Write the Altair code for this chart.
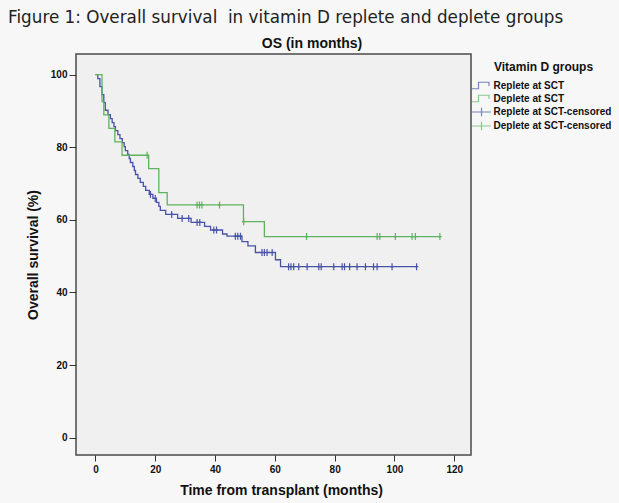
import altair as alt
import pandas as pd

# ---------------- data ----------------
REP = "Replete at SCT"
DEP = "Deplete at SCT"
REP_C = "Replete at SCT-censored"
DEP_C = "Deplete at SCT-censored"

# Kaplan-Meier steps: time (months) and survival (%) after each step
blue_t = [0, 0.8, 1.5, 2.2, 2.8, 3.3, 4.2, 5.0, 5.6, 6.2, 6.7, 7.5, 8.2, 9.0, 9.6,
          10.0, 10.8, 11.3, 11.7, 12.5, 13.0, 13.4, 14.2, 15.0, 16.0, 16.8, 18.0,
          19.2, 20.4, 21.2, 21.7, 23.5, 27.5, 32.0, 36.5, 38.5, 42.5, 44.0, 49.0,
          51.0, 53.5, 60.2, 61.9]
blue_s = [100, 98.9, 96.7, 94.5, 92.3, 90.2, 89.0, 87.9, 86.8, 85.7, 84.6, 83.5,
          82.4, 81.3, 80.2, 79.1, 78.0, 76.9, 75.8, 74.7, 73.6, 72.5, 71.4, 70.3,
          69.2, 68.1, 67.0, 65.9, 64.8, 63.7, 62.6, 61.5, 60.4, 59.3, 58.2, 57.2,
          56.1, 55.5, 54.0, 52.8, 51.0, 49.0, 47.1]
blue_cens = [18.4, 20.0, 25.5, 29.0, 31.2, 34.0, 34.9, 39.6, 40.5, 46.8, 47.6, 48.5,
             55.7, 56.5, 57.4, 59.1, 64.6, 65.4, 66.3, 68.0, 70.8, 74.7, 75.5, 79.7,
             82.5, 83.3, 85.0, 87.5, 90.3, 93.0, 94.2, 99.2, 107.4]

green_t = [0, 2.2, 2.8, 4.5, 6.5, 8.9, 17.8, 21.2, 24.0, 49.5, 56.5]
green_s = [100, 92.6, 88.9, 85.2, 81.5, 77.8, 74.1, 67.5, 64.1, 59.5, 55.4]
green_cens = [17.3, 34.0, 34.8, 35.6, 41.5, 49.6, 70.6, 94.2, 95.1, 100.3, 105.9,
              107.0, 115.2]

x_ticks = [0, 20, 40, 60, 80, 100, 120]
y_ticks = [0, 20, 40, 60, 80, 100]

caption = "Figure 1: Overall survival \u00a0in vitamin D replete and deplete groups"
plot_title = "OS (in months)"

BLUE = "#4753a8"
GREEN = "#5fb35f"
# legend glyphs (custom symbol paths)
STEP = "M-1.9,0.55H-0.6V-0.75H1.5V0"
CROSS = "M-1.9,0H1.9M0,-0.85V0.85"
# censor mark on the curves
PLOT_CROSS = "M-0.5,0H0.5M0,-1V1"


def level_at(ts, ss, t):
    lvl = ss[0]
    for ti, si in zip(ts, ss):
        if ti <= t:
            lvl = si
    return lvl


rows = []
for ts, ss, cens, g in [(blue_t, blue_s, blue_cens, REP), (green_t, green_s, green_cens, DEP)]:
    for t, s in zip(ts, ss):
        rows.append({"time": t, "surv": s, "group": g})
    rows.append({"time": max(cens), "surv": ss[-1], "group": g})
lines_df = pd.DataFrame(rows)

crows = []
for ts, ss, cens, g in [(blue_t, blue_s, blue_cens, REP_C), (green_t, green_s, green_cens, DEP_C)]:
    for t in cens:
        crows.append({"time": t, "surv": level_at(ts, ss, t), "group": g})
cens_df = pd.DataFrame(crows)

FONT = "Liberation Sans"

x_enc = alt.X("time:Q", scale=alt.Scale(domain=[-6.5, 125.6], nice=False, zero=False),
              axis=alt.Axis(values=x_ticks, title="Time from transplant (months)",
                            titleFont=FONT, titleFontSize=14, titleFontWeight="bold",
                            titleColor="#111", titlePadding=9, titleX=205,
                            labelFont=FONT, labelFontSize=10, labelFontWeight="bold",
                            labelColor="#111", labelPadding=3, tickSize=6,
                            tickColor="#333", domain=False, grid=False))
y_enc = alt.Y("surv:Q", scale=alt.Scale(domain=[-4.8, 105.7], nice=False, zero=False),
              axis=alt.Axis(values=y_ticks, title="Overall survival (%)",
                            titleFont=FONT, titleFontSize=14, titleFontWeight="bold",
                            titleColor="#111", titlePadding=10,
                            labelFont=FONT, labelFontSize=10, labelFontWeight="bold",
                            labelColor="#111", labelPadding=2, tickSize=7,
                            tickColor="#333", domain=False, grid=False))

labels = [REP, DEP, REP_C, DEP_C]
color_scale = alt.Scale(domain=labels, range=[BLUE, GREEN, BLUE, GREEN])
shape_scale = alt.Scale(domain=labels, range=[STEP, STEP, CROSS, CROSS])
leg = alt.Legend(title="Vitamin D groups", orient="none", legendX=399.5, legendY=8,
                 titleFont=FONT, titleFontSize=12, titleFontWeight="bold",
                 titleColor="#111", titleAnchor="middle", titlePadding=6,
                 labelFont=FONT, labelFontSize=10, labelFontWeight="bold",
                 labelColor="#111", labelOffset=6, labelLimit=300,
                 symbolSize=100, symbolStrokeWidth=1.2, rowPadding=0, padding=0)

blue_line = alt.Chart(lines_df).transform_filter(alt.datum.group == REP).mark_line(
    interpolate="step-after", strokeWidth=1.3, color=BLUE).encode(x=x_enc, y=y_enc)
green_line = alt.Chart(lines_df).transform_filter(alt.datum.group == DEP).mark_line(
    interpolate="step-after", strokeWidth=1.3, color=GREEN).encode(x=x_enc, y=y_enc)

# censor marks drawn on the curves
blue_pts = alt.Chart(cens_df).transform_filter(alt.datum.group == REP_C).mark_point(
    filled=False, size=49, strokeWidth=1.2, opacity=1, shape=PLOT_CROSS, color=BLUE
).encode(x=x_enc, y=y_enc)
green_pts = alt.Chart(cens_df).transform_filter(alt.datum.group == DEP_C).mark_point(
    filled=False, size=49, strokeWidth=1.2, opacity=1, shape=PLOT_CROSS, color=GREEN
).encode(x=x_enc, y=y_enc)

# invisible layer (zero size) that carries the legend
legend_layer = alt.Chart(cens_df).mark_point(filled=False, size=0, strokeWidth=1.2).encode(
    x=x_enc, y=y_enc,
    color=alt.Color("group:N", scale=color_scale, legend=leg),
    shape=alt.Shape("group:N", scale=shape_scale, legend=leg),
)

cap = alt.Chart(pd.DataFrame({"t": [caption]})).mark_text(
    font="DejaVu Sans", fontSize=16.8, align="left", baseline="middle", color="#222"
).encode(x=alt.value(-68), y=alt.value(-36), text="t:N")

ttl = alt.Chart(pd.DataFrame({"t": [plot_title]})).mark_text(
    font=FONT, fontSize=14, fontWeight="bold", align="center", baseline="middle", color="#111"
).encode(x=alt.value(236), y=alt.value(-10), text="t:N")

chart = alt.layer(blue_line, green_line, blue_pts, green_pts, legend_layer, cap, ttl).properties(
    width=395, height=401,
    autosize=alt.AutoSizeParams(type="none"),
    padding={"left": 76, "top": 54, "right": 148, "bottom": 48},
    background="#f7f7f7",
).configure_view(fill="#f0f0f0", stroke="#4a4a4a", strokeWidth=1.5)

chart.save("out.html", embed_options={"renderer": "svg", "actions": False})
